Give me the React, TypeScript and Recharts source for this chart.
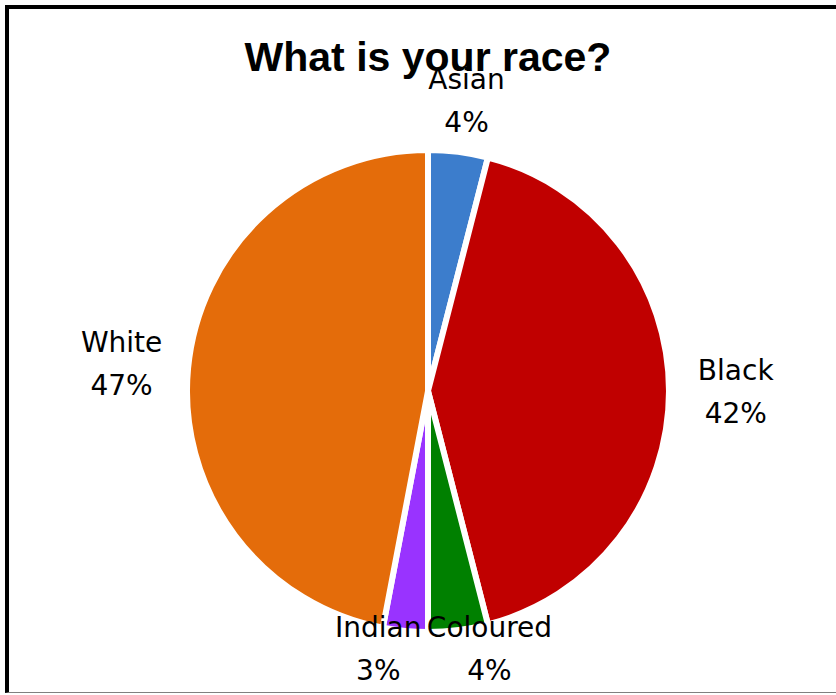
import { PieChart, Pie, Cell } from 'recharts';

const RACES = ['Asian', 'Black', 'Coloured', 'Indian', 'White'];
const SHARES = [4, 42, 4, 3, 47];
const COLORS = ['#3c7dcc', '#c00000', '#008000', '#9933ff', '#e46c0a'];

const W = 836;
const H = 695;
const RAD = Math.PI / 180;
const GAP_X = 28;
const GAP_Y = 20;
const LINE_GAP = 43;
const SPREAD = 20;

const data = RACES.map((name, i) => ({ name, value: SHARES[i] }));

// Excel-like "outside end" labels: name on top, percentage below
function renderLabel(props: any) {
  const { cx, cy, midAngle, outerRadius, name, percent } = props;
  const cos = Math.cos(-midAngle * RAD);
  const sin = Math.sin(-midAngle * RAD);
  const w = String(name).length * 15.5;
  const h = 64;
  let x = cx + (outerRadius + GAP_X) * cos + (cos * w) / 2;
  let y = cy + (outerRadius + GAP_Y) * sin + (sin * h) / 2;
  // labels that run off the bottom get pushed up and slide away from each other
  const maxY = H - 47;
  if (y > maxY) {
    y = maxY;
    x += Math.sign(cos) * SPREAD;
  }
  return (
    <text x={x} y={y} textAnchor="middle" fontFamily="DejaVu Sans" fontSize={28} fill="#000">
      <tspan x={x} dy={-11.5}>{name}</tspan>
      <tspan x={x} dy={LINE_GAP}>{`${Math.round(percent * 100)}%`}</tspan>
    </text>
  );
}

export default function App() {
  return (
    <div style={{ position: 'absolute', left: 0, top: 0, width: W, height: H, background: '#fff', overflow: 'hidden' }}>
      <div
        style={{
          position: 'absolute',
          left: 5,
          top: 5,
          width: W - 5,
          height: 688,
          boxSizing: 'border-box',
          borderLeft: '4px solid #000',
          borderTop: '4px solid #000',
          borderBottom: '1px solid #808080',
        }}
      />
      <div style={{ position: 'absolute', left: 0, top: 0 }}>
        <PieChart width={W} height={H} margin={{ top: 0, right: 0, bottom: 0, left: 0 }}>
          <Pie
            data={data}
            dataKey="value"
            nameKey="name"
            cx={428}
            cy={391}
            outerRadius={241}
            startAngle={90}
            endAngle={-270}
            stroke="#fff"
            strokeWidth={6}
            label={renderLabel}
            labelLine={false}
            isAnimationActive={false}
          >
            {data.map((_, i) => (
              <Cell key={i} fill={COLORS[i]} />
            ))}
          </Pie>
        </PieChart>
      </div>
      <svg width={W} height={H} style={{ position: 'absolute', left: 0, top: 0, pointerEvents: 'none' }}>
        <text x={428} y={71} textAnchor="middle" fontFamily="Liberation Sans" fontWeight="bold" fontSize={41} fill="#000">
          What is your race?
        </text>
      </svg>
    </div>
  );
}
